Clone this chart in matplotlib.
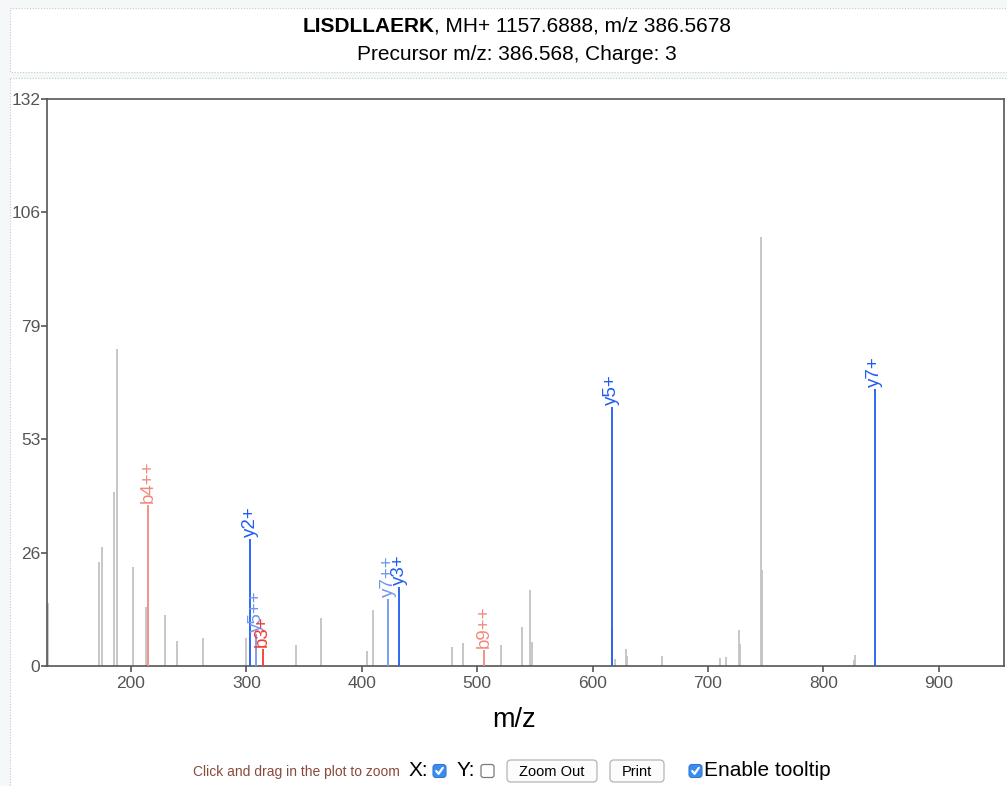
import matplotlib
matplotlib.use("Agg")
import matplotlib.pyplot as plt
from matplotlib.patches import Rectangle, FancyBboxPatch

W, H = 1007, 786
plt.rcParams['font.family'] = ['Liberation Sans', 'DejaVu Sans']

# ---- spectrum data -------------------------------------------------------
# unassigned peaks (m/z, relative intensity)
peak_mz = [128.5, 172.8, 175.0, 185.6, 187.7, 201.8, 212.8, 229.3, 239.7,
           262.9, 299.8, 342.7, 364.4, 404.7, 409.4, 478.6, 488.0, 520.3,
           538.7, 545.8, 547.1, 617.2, 619.8, 628.7, 630.0, 660.1, 710.7,
           715.6, 726.8, 728.0, 745.6, 746.7, 826.3, 827.6]
peak_int = [14.6, 24.2, 27.6, 40.5, 73.8, 23.0, 13.7, 11.8, 5.9,
            6.5, 6.5, 5.0, 11.2, 3.4, 13.0, 4.4, 5.3, 5.0,
            9.0, 17.8, 5.7, 8.8, 1.6, 3.9, 2.3, 2.3, 1.9,
            2.2, 8.4, 5.1, 99.8, 22.4, 1.4, 2.6]

# annotated fragment ions
ion_labels = ["b4++", "y2+", "y5++", "b3+", "y7++", "y3+", "b9++", "y5+", "y7+"]
ion_mz = [215.12, 303.20, 308.69, 314.21, 422.75, 432.26, 506.30, 616.38, 844.49]
ion_int = [37.5, 29.6, 7.5, 4.0, 15.5, 18.3, 3.7, 60.2, 64.5]

title_seq = "LISDLLAERK"
title_rest = ", MH+ 1157.6888, m/z 386.5678"
subtitle = "Precursor m/z: 386.568, Charge: 3"

y_max = 132
y_ticks = [y_max * i / 5 for i in range(6)]
y_tick_labels = [f"{v:.0f}" for v in y_ticks]
x_ticks = [200, 300, 400, 500, 600, 700, 800, 900]
x_range = (127.6, 956.4)

# colours per ion series / charge
ion_colors = {
    ("b", 1): "#f23a30",
    ("b", 2): "#f2897c",
    ("y", 1): "#1f5cf2",
    ("y", 2): "#6f98ee",
}
PEAK_GRAY = "#c3c3c3"


def ion_color(label):
    charge = label.count("+")
    return ion_colors[(label[0], charge)]


fig = plt.figure(figsize=(W / 100, H / 100), dpi=100)
fig.patch.set_facecolor("#f4f8f9")

# pixel-space overlay for page furniture (panels, title, controls)
bg = fig.add_axes([0, 0, 1, 1], zorder=-1)
bg.set_xlim(0, W)
bg.set_ylim(H, 0)
bg.axis("off")

bg.add_patch(Rectangle((10, 8), W - 10, 64, facecolor="white",
                       edgecolor="#c8c8c8", lw=0.8, ls=(0, (1, 1.5))))
bg.add_patch(Rectangle((10, 78), W - 10, H - 78, facecolor="white",
                       edgecolor="#c8c8c8", lw=0.8, ls=(0, (1, 1.5))))

# title: bold sequence followed by plain text, centred as one line
renderer = fig.canvas.get_renderer()
t1 = bg.text(0, 26, title_seq, fontsize=15, fontweight="bold",
             ha="left", va="center", color="black")
t2 = bg.text(0, 26, title_rest, fontsize=15, ha="left", va="center",
             color="black")
w1 = t1.get_window_extent(renderer).width
w2 = t2.get_window_extent(renderer).width
x0 = 517 - (w1 + w2) / 2
t1.set_x(x0)
t2.set_x(x0 + w1)
bg.text(517, 54, subtitle, fontsize=15, ha="center", va="center",
        color="black")

# ---- spectrum axes -------------------------------------------------------
left_px, right_px, top_px, bot_px = 47.3, 1004, 99, 666
ax = fig.add_axes([left_px / W, 1 - bot_px / H,
                   (right_px - left_px) / W, (bot_px - top_px) / H])
ax.set_facecolor("white")

ax.vlines(peak_mz, 0, peak_int, colors=PEAK_GRAY, lw=1.3, zorder=2)
for lab, mz, inten in zip(ion_labels, ion_mz, ion_int):
    c = ion_color(lab)
    ax.vlines(mz, 0, inten, colors=c, lw=1.3, zorder=3)
    ax.annotate(lab, (mz, inten), xytext=(0, 1.5), textcoords="offset points",
                rotation=90, ha="center", va="bottom", fontsize=13.5, color=c)

ax.set_xlim(*x_range)
ax.set_ylim(0, y_max)
ax.set_xticks(x_ticks)
ax.set_yticks(y_ticks)
ax.set_yticklabels(y_tick_labels)
for sp in ax.spines.values():
    sp.set_color("#555555")
    sp.set_linewidth(1.2)
ax.tick_params(direction="out", length=4, width=1.2, color="#555555",
               labelcolor="#555555", labelsize=12.5)
ax.tick_params(axis="y", pad=1)
ax.tick_params(axis="x", pad=3)

bg.text(514, 720, "m/z", fontsize=19.5, ha="center", va="center",
        color="black")

# ---- zoom / print controls ----------------------------------------------
cy = 771
bg.text(193, cy + 1, "Click and drag in the plot to zoom", fontsize=10,
        ha="left", va="center", color="#8a4a3a")


def checkbox(x, checked):
    if checked:
        bg.add_patch(FancyBboxPatch((x, cy - 6.5), 13, 13,
                                    boxstyle="round,pad=0,rounding_size=3",
                                    facecolor="#3b8cf0", edgecolor="#2f7ad8",
                                    lw=0.8))
        bg.plot([x + 3.2, x + 5.6, x + 9.8], [cy, cy + 2.8, cy - 3.2],
                color="white", lw=1.6, solid_capstyle="round")
    else:
        bg.add_patch(FancyBboxPatch((x, cy - 6.5), 13, 13,
                                    boxstyle="round,pad=0,rounding_size=2.5",
                                    facecolor="white", edgecolor="#7a7a7a",
                                    lw=0.9))


def button(x0b, x1b, label):
    bg.add_patch(FancyBboxPatch((x0b, cy - 11), x1b - x0b, 22,
                                boxstyle="round,pad=0,rounding_size=4",
                                facecolor="#fcfcfc", edgecolor="#b5b5b5",
                                lw=0.9))
    bg.text((x0b + x1b) / 2, cy + 1, label, fontsize=10.5, ha="center",
            va="center", color="black")


bg.text(409, cy, "X:", fontsize=15, ha="left", va="center", color="black")
checkbox(433, True)
bg.text(457, cy, "Y:", fontsize=15, ha="left", va="center", color="black")
checkbox(481, False)
button(507, 597, "Zoom Out")
button(610, 664, "Print")
checkbox(689, True)
bg.text(704, cy - 1, "Enable tooltip", fontsize=15, ha="left", va="center",
        color="black")

fig.savefig("out.png", dpi=100, facecolor=fig.get_facecolor())
